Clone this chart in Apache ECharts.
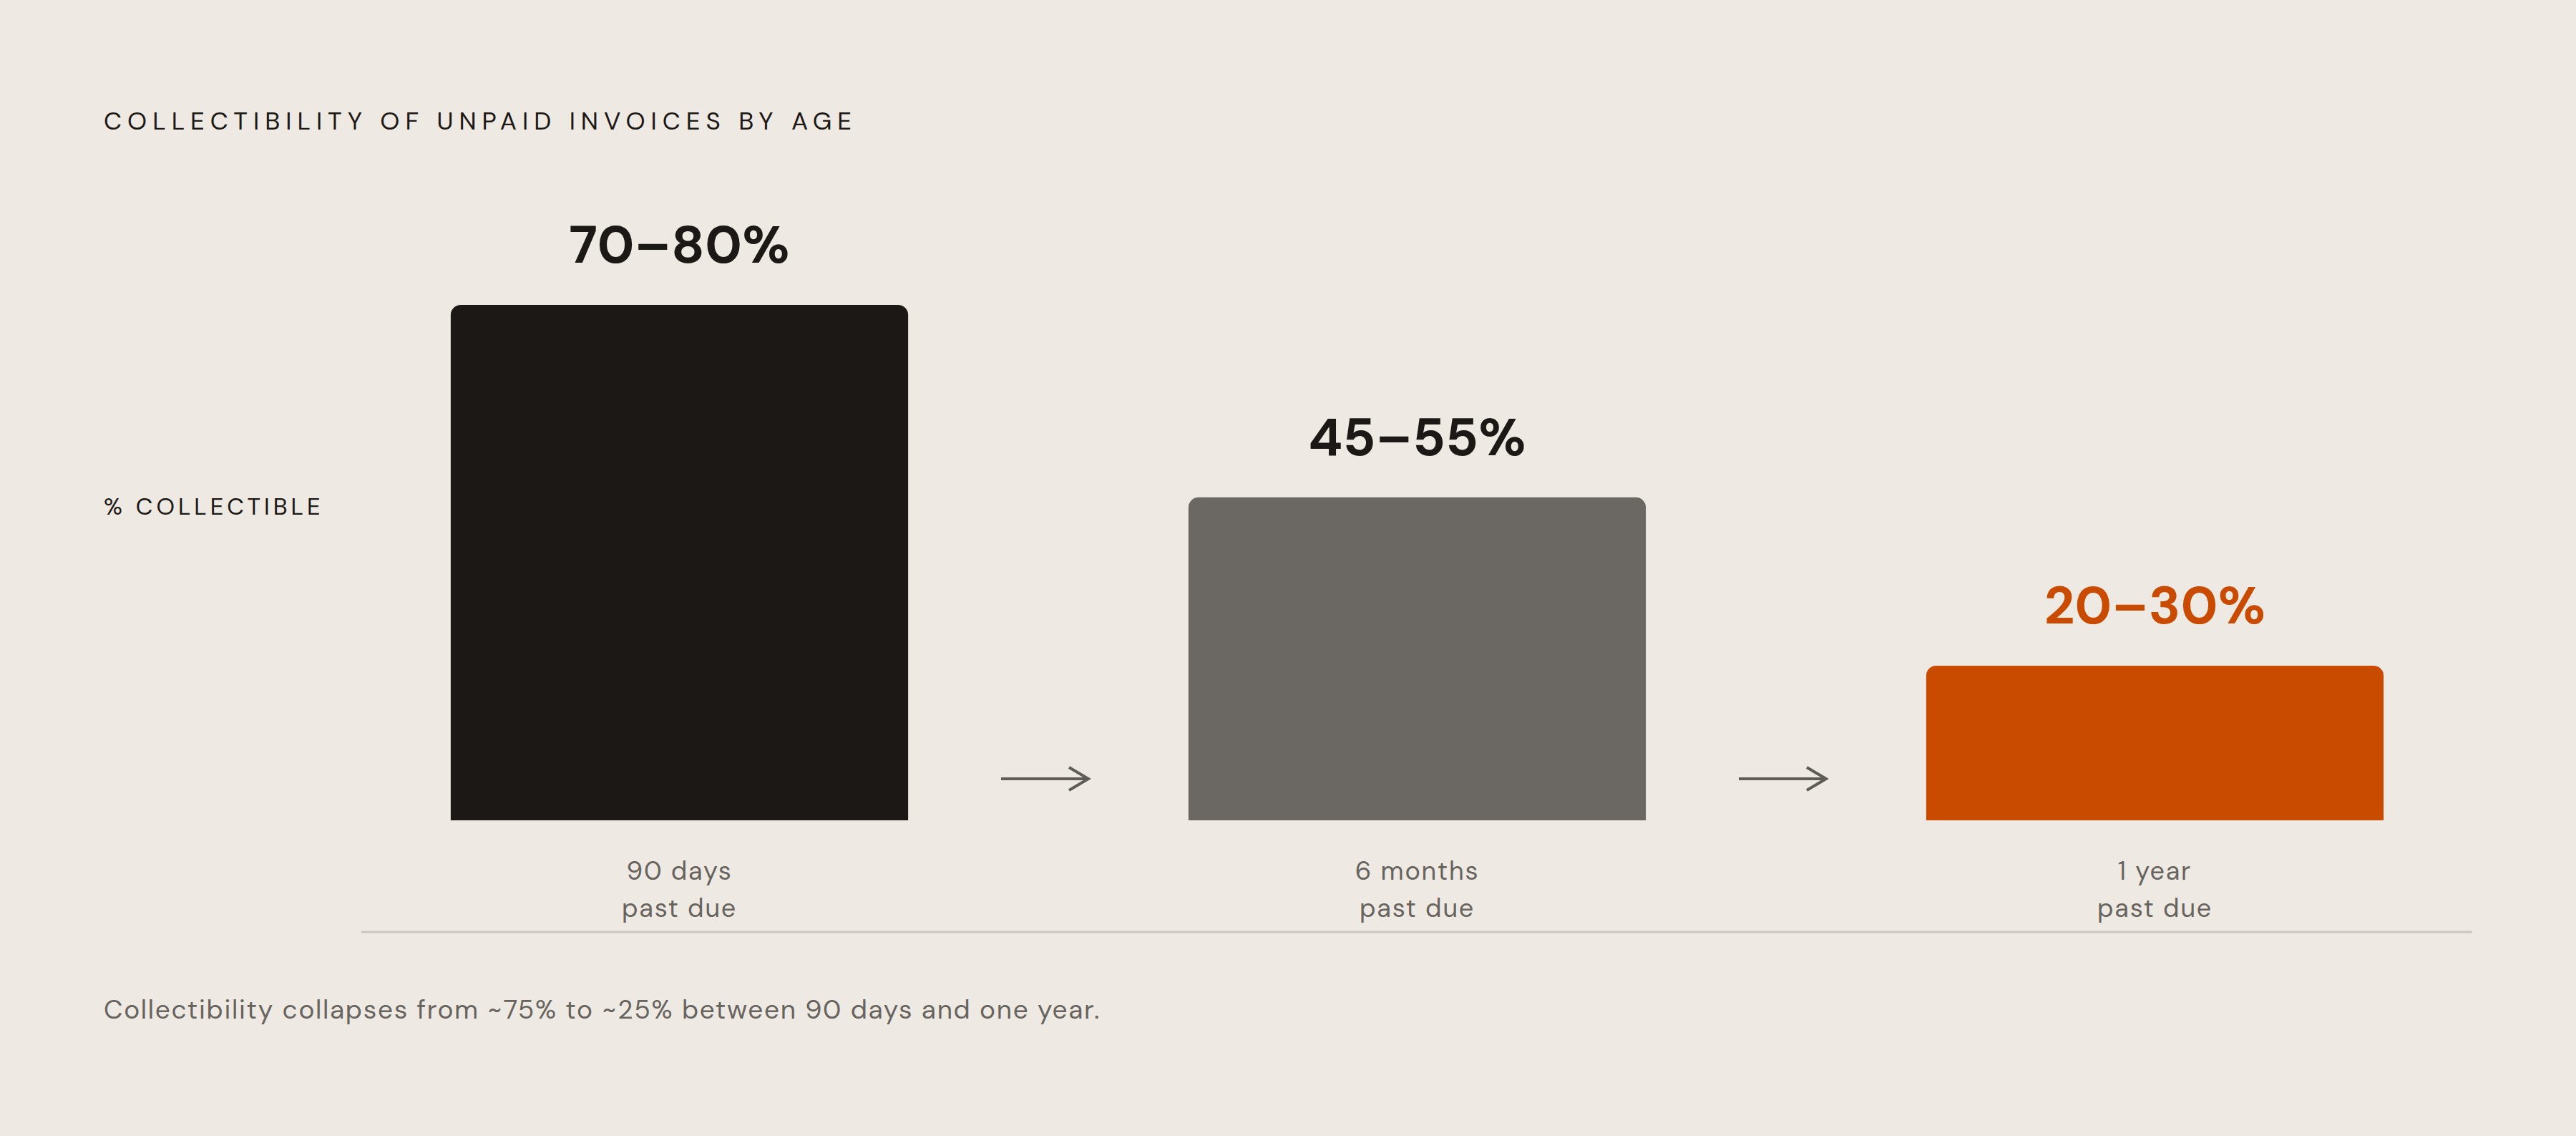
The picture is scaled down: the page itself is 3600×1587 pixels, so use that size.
<!DOCTYPE html>
<html>
<head>
<meta charset="utf-8">
<script src="https://cdn.jsdelivr.net/npm/echarts@6/dist/echarts.min.js"></script>
<style>
  html, body { margin: 0; padding: 0; background: #eeeae3; }
  #chart { width: 3600px; height: 1587px; }
</style>
</head>
<body>
<div id="chart"></div>
<script>
// data
var categories = ['90 days\npast due', '6 months\npast due', '1 year\npast due'];
var collectible = [75, 47, 22.5];          // bar heights, % collectible
var rangeLabels = ['70–80%', '45–55%', '20–30%'];
var barColors = ['#1c1815', '#6b6762', '#c84b00'];
var labelColors = ['#1c1815', '#1c1815', '#c84b00'];

var FONT = "'DM Sans', Inter, sans-serif";
var TITLE = 'COLLECTIBILITY OF UNPAID INVOICES BY AGE';
var Y_CAPTION = '% COLLECTIBLE';
var FOOTNOTE = 'Collectibility collapses from ~75% to ~25% between 90 days and one year.';

// svg renderer so the tracked caps can get letter-spacing
var chart = echarts.init(document.getElementById('chart'), null, { renderer: 'svg' });

var option = {
  backgroundColor: '#eeeae3',
  animation: false,
  title: {
    text: TITLE,
    left: 145,
    top: 151,
    padding: 0,
    textStyle: {
      fontFamily: FONT,
      fontSize: 35,
      fontWeight: 400,
      lineHeight: 35,
      color: '#1c1815'
    }
  },
  grid: {
    left: 434,
    right: 73,
    top: 186,
    bottom: 441
  },
  xAxis: {
    type: 'category',
    data: categories,
    axisLine: { show: false },
    axisTick: { show: false },
    axisLabel: {
      margin: 44,
      fontFamily: FONT,
      fontSize: 36,
      lineHeight: 52,
      color: '#67635e'
    }
  },
  yAxis: {
    type: 'value',
    min: 0,
    max: 100,
    show: false
  },
  series: [
    {
      type: 'bar',
      barWidth: '62%',
      data: collectible.map(function (v, i) {
        return {
          value: v,
          itemStyle: { color: barColors[i] },
          label: { color: labelColors[i] }
        };
      }),
      itemStyle: {
        borderRadius: [14, 14, 0, 0]
      },
      label: {
        show: true,
        position: 'top',
        distance: 47,
        fontFamily: FONT,
        fontSize: 74,
        fontWeight: 700,
        lineHeight: 74,
        formatter: function (p) {
          return rangeLabels[p.dataIndex];
        }
      }
    }
  ]
};

chart.setOption(option);

// decorations: y-axis caption, baseline rule, arrows between bars, footnote
var arrowY = 1088;
var graphics = [
  {
    type: 'text',
    left: 145,
    top: 691,
    style: {
      text: Y_CAPTION,
      fontFamily: FONT,
      fontSize: 33,
      fill: '#1c1815'
    }
  },
  {
    type: 'line',
    shape: { x1: 505, y1: 1302, x2: 3455, y2: 1302 },
    style: { stroke: '#cbc6bf', lineWidth: 3 }
  },
  {
    type: 'text',
    left: 145,
    top: 1391,
    style: {
      text: FOOTNOTE,
      fontFamily: FONT,
      fontSize: 37,
      fill: '#67635e'
    }
  }
];

for (var i = 0; i < categories.length - 1; i++) {
  var xa = chart.convertToPixel({ xAxisIndex: 0 }, i);
  var xb = chart.convertToPixel({ xAxisIndex: 0 }, i + 1);
  var mid = (xa + xb) / 2 - 5;
  var x1 = mid - 61, x2 = mid + 61;
  graphics.push({
    type: 'polyline',
    shape: { points: [[x1, arrowY], [x2, arrowY]] },
    style: { stroke: '#5f5c58', lineWidth: 4, fill: null }
  });
  graphics.push({
    type: 'polyline',
    shape: { points: [[x2 - 27, arrowY - 16], [x2, arrowY], [x2 - 27, arrowY + 16]] },
    style: { stroke: '#5f5c58', lineWidth: 4, fill: null }
  });
}

chart.setOption({ graphic: graphics });

// letter-spacing per text (px)
var spacing = {};
spacing[TITLE] = '8px';
spacing[Y_CAPTION] = '5px';
spacing[FOOTNOTE] = '1.7px';
['90 days', '6 months', '1 year', 'past due'].forEach(function (t) { spacing[t] = '1.8px'; });

function applySpacing() {
  var texts = document.querySelectorAll('#chart text');
  for (var k = 0; k < texts.length; k++) {
    var s = spacing[texts[k].textContent];
    if (s) texts[k].style.letterSpacing = s;
  }
}
chart.getZr().refreshImmediately();
applySpacing();
chart.on('finished', applySpacing);
</script>
</body>
</html>
